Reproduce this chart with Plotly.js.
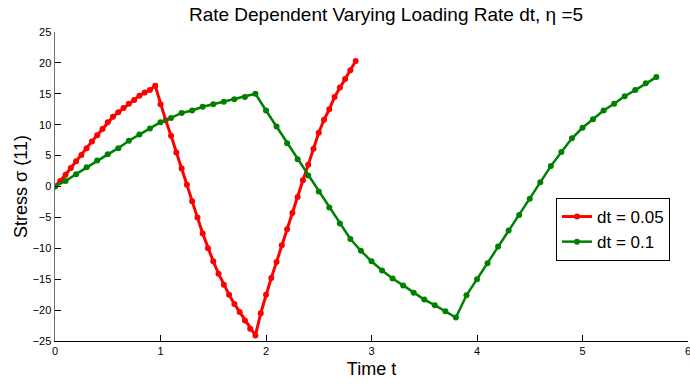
<!DOCTYPE html>
<html>
<head>
<meta charset="utf-8">
<script src="https://cdn.plot.ly/plotly-3.0.1.min.js"></script>
<style>
html,body{margin:0;padding:0;background:#fff;}
#chart{width:690px;height:385px;}
</style>
</head>
<body>
<div id="chart"></div>
<script>
// Time values (dt = 0.05 and dt = 0.1)
const tRed = [0,0.05,0.1,0.15,0.2,0.25,0.3,0.35,0.4,0.45,0.5,0.55,0.6,0.65,0.7,0.75,0.8,0.85,0.9,0.95,
  1.0,1.05,1.1,1.15,1.2,1.25,1.3,1.35,1.4,1.45,1.5,1.55,1.6,1.65,1.7,1.75,1.8,1.85,1.9,
  1.95,2.0,2.05,2.1,2.15,2.2,2.25,2.3,2.35,2.4,2.45,2.5,2.55,2.6,2.65,2.7,2.75,2.8,2.85];
const stressRed = [0,0.9,1.9,3.0,4.1,5.1,6.2,7.3,8.3,9.3,10.4,11.3,12.0,12.7,13.4,14.0,14.7,15.2,15.6,16.3,
  13.3,10.7,8.2,5.5,2.9,0.3,-2.4,-5.0,-7.6,-10.0,-12.1,-14.1,-15.9,-17.5,-19.0,-20.3,-21.7,-23.0,-24.1,
  -20.5,-17.5,-14.8,-12.2,-9.5,-6.9,-4.3,-1.7,1.0,3.5,6.1,8.7,10.8,12.5,14.5,16.0,17.4,18.8,20.3];

const tGreen = [0,0.1,0.2,0.3,0.4,0.5,0.6,0.7,0.8,0.9,1.0,1.1,1.2,1.3,1.4,1.5,1.6,1.7,1.8,1.9,
  2.0,2.1,2.2,2.3,2.4,2.5,2.6,2.7,2.8,2.9,3.0,3.1,3.2,3.3,3.4,3.5,3.6,3.7,3.8,
  3.9,4.0,4.1,4.2,4.3,4.4,4.5,4.6,4.7,4.8,4.9,5.0,5.1,5.2,5.3,5.4,5.5,5.6,5.7];
const stressGreen = [0,0.9,2.0,3.1,4.2,5.2,6.2,7.4,8.4,9.4,10.4,11.1,11.9,12.3,12.9,13.3,13.7,14.1,14.5,15.0,
  12.3,9.7,7.0,4.4,1.8,-0.8,-3.4,-6.0,-8.5,-10.4,-12.1,-13.6,-14.9,-16.0,-17.2,-18.3,-19.2,-20.2,-21.2,
  -17.6,-15.0,-12.4,-9.7,-7.1,-4.6,-2.0,0.7,3.3,5.6,7.8,9.5,10.9,12.3,13.4,14.6,15.6,16.7,17.7];

const seriesNames = ['dt = 0.05', 'dt = 0.1'];
const xTicks = [0,1,2,3,4,5,6];
const yTicks = [-25,-20,-15,-10,-5,0,5,10,15,20,25];

const FONT = 'Liberation Sans, Arial, Helvetica, sans-serif';

const traces = [
  {x: tRed, y: stressRed, name: seriesNames[0], type: 'scatter', mode: 'lines+markers',
   line: {color: '#ff0000', width: 3}, marker: {color: '#ff0000', size: 6}},
  {x: tGreen, y: stressGreen, name: seriesNames[1], type: 'scatter', mode: 'lines+markers',
   line: {color: '#008000', width: 2.5}, marker: {color: '#008000', size: 6}}
];

const layout = {
  width: 690, height: 385,
  margin: {l: 55, r: 2, t: 32, b: 44, pad: 0},
  paper_bgcolor: '#ffffff', plot_bgcolor: '#ffffff',
  font: {family: FONT, color: '#000000', size: 11},
  title: {text: 'Rate Dependent Varying Loading Rate dt, η =5',
    font: {family: FONT, size: 19, color: '#000'},
    x: 386/690, xref: 'container', xanchor: 'center',
    y: 1 - 14/385, yref: 'container', yanchor: 'middle'},
  xaxis: {range: [0, 6], tickvals: xTicks, ticks: 'inside', ticklen: 6, tickcolor: '#000',
    showline: true, linecolor: '#000', linewidth: 1, mirror: false, showgrid: false, zeroline: false,
    tickfont: {size: 11, family: FONT}, ticklabeloverflow: 'allow',
    title: {text: 'Time t', font: {size: 18, family: FONT}, standoff: 6}},
  yaxis: {range: [-25, 25], tickvals: yTicks, ticks: 'inside', ticklen: 6, tickcolor: '#000',
    showline: true, linecolor: '#707070', linewidth: 1.5, mirror: false, showgrid: false, zeroline: false,
    tickfont: {size: 11, family: FONT},
    title: {text: 'Stress σ (11)', font: {size: 18, family: FONT}, standoff: 0}},
  showlegend: true,
  legend: {x: (556-55)/633, y: (341-198)/309, xanchor: 'left', yanchor: 'top',
    bordercolor: '#000', borderwidth: 1, bgcolor: '#fff',
    font: {size: 17, family: FONT}, tracegroupgap: 0}
};

Plotly.newPlot('chart', traces, layout, {displayModeBar: false, staticPlot: true});
</script>
</body>
</html>
